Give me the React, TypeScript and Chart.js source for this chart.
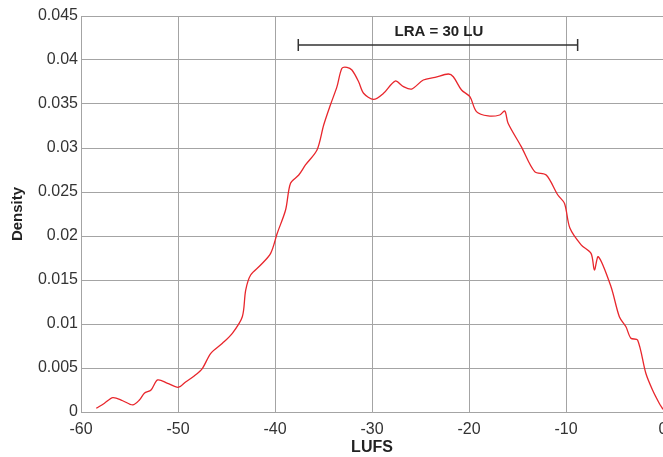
import React, { useEffect, useRef } from "react";
import { Chart, registerables } from "chart.js";

Chart.register(...registerables);

const lufs = [
  -58.43, -57.58, -56.72, -55.7, -54.67, -53.98, -53.47, -52.78, -52.1, -51.07,
  -49.97, -49.18, -48.33, -47.48, -46.62, -45.42, -44.4, -43.37, -43.02, -42.51,
  -41.48, -40.45, -39.77, -38.91, -38.4, -37.55, -36.86, -35.67, -34.98, -34.29,
  -33.61, -33.1, -32.58, -32.07, -31.38, -30.87, -29.84, -28.81, -27.61, -26.76,
  -25.91, -24.71, -23.5, -22.14, -21.62, -20.77, -19.91, -19.23, -18.03, -16.83,
  -16.31, -15.97, -14.61, -13.23, -12.04, -10.84, -10.15, -9.6, -8.44, -7.42,
  -7.07, -6.66, -5.36, -4.5, -3.82, -3.31, -2.62, -1.77, -1.08, -0.39, 0.0,
];
const density = [
  0.00042, 0.00099, 0.00163, 0.00128, 0.0008, 0.00136, 0.00213, 0.0025, 0.00364, 0.00326,
  0.00281, 0.00344, 0.00409, 0.00497, 0.00667, 0.00781, 0.00894, 0.01083, 0.01386, 0.01557,
  0.0167, 0.01803, 0.02031, 0.02295, 0.02599, 0.02693, 0.02807, 0.02977, 0.03261, 0.03489,
  0.03697, 0.03906, 0.03917, 0.03886, 0.03753, 0.03622, 0.03553, 0.03622, 0.03761, 0.03697,
  0.0367, 0.03773, 0.03803, 0.03841, 0.0381, 0.03659, 0.03583, 0.03413, 0.03364, 0.03375,
  0.0342, 0.03281, 0.03015, 0.02731, 0.02693, 0.02466, 0.0237, 0.0209, 0.019, 0.01803,
  0.01614, 0.01765, 0.01424, 0.01083, 0.00969, 0.00838, 0.00818, 0.0044, 0.0025, 0.001, 0.0003,
];

const xTicks = [-60, -50, -40, -30, -20, -10, 0];
const yTicks = [0, 0.005, 0.01, 0.015, 0.02, 0.025, 0.03, 0.035, 0.04, 0.045];

const lraStart = -37.6;
const lraEnd = -8.8;
const lraLevel = 0.0417;
const lraLabel = "LRA = 30 LU";

const FONT = "Arial, 'Liberation Sans', sans-serif";

const lraPlugin = {
  id: "lra",
  afterDatasetsDraw(chart: any) {
    const { ctx, scales } = chart;
    const x1 = scales.x.getPixelForValue(lraStart);
    const x2 = scales.x.getPixelForValue(lraEnd);
    const y = scales.y.getPixelForValue(lraLevel);
    ctx.save();
    ctx.strokeStyle = "#333";
    ctx.lineWidth = 1.5;
    ctx.beginPath();
    ctx.moveTo(x1, y);
    ctx.lineTo(x2, y);
    ctx.moveTo(x1, y - 6);
    ctx.lineTo(x1, y + 6);
    ctx.moveTo(x2, y - 6);
    ctx.lineTo(x2, y + 6);
    ctx.stroke();
    ctx.fillStyle = "#222";
    ctx.font = "bold 15px " + FONT;
    ctx.textAlign = "center";
    ctx.textBaseline = "middle";
    ctx.fillText(lraLabel, (x1 + x2) / 2 + 1, y - 13);
    ctx.restore();
  },
};

export default function App() {
  const ref = useRef<HTMLCanvasElement>(null);
  useEffect(() => {
    if (!ref.current) return;
    const gridColor = "#a4a4a4";
    const chart = new Chart(ref.current, {
      type: "line",
      data: {
        datasets: [
          {
            data: lufs.map((x, i) => ({ x, y: density[i] })),
            borderColor: "#e8262c",
            borderWidth: 1.3,
            pointRadius: 0,
            tension: 0.3,
            fill: false,
          },
        ],
      },
      options: {
        animation: false,
        responsive: false,
        devicePixelRatio: 1,
        layout: { padding: { left: 0, right: 17, top: 16, bottom: 0 } },
        plugins: { legend: { display: false }, tooltip: { enabled: false } },
        scales: {
          x: {
            type: "linear",
            min: -60,
            max: 0,
            afterBuildTicks: (s: any) => {
              s.ticks = xTicks.map((v) => ({ value: v }));
            },
            afterFit: (s: any) => {
              s.height = 45;
            },
            ticks: {
              padding: 8,
              color: "#333",
              font: { family: FONT, size: 16 },
              callback: (v: any) => String(v),
            },
            grid: { color: gridColor, lineWidth: 1, drawTicks: false },
            border: { color: gridColor },
            title: {
              display: true,
              text: "LUFS",
              color: "#222",
              font: { family: FONT, size: 16, weight: "bold" },
              padding: { top: 0, bottom: 0 },
            },
          },
          y: {
            type: "linear",
            min: 0,
            max: 0.045,
            afterBuildTicks: (s: any) => {
              s.ticks = yTicks.map((v) => ({ value: v }));
            },
            afterFit: (s: any) => {
              s.width = 81;
            },
            ticks: {
              padding: 3,
              color: "#333",
              font: { family: FONT, size: 16 },
              callback: (v: any) => String(v),
            },
            grid: { color: gridColor, lineWidth: 1, drawTicks: false },
            border: { color: gridColor },
            title: {
              display: true,
              text: "Density",
              color: "#222",
              font: { family: FONT, size: 15, weight: "bold" },
              padding: { top: 9, bottom: 0 },
            },
          },
        },
      },
      plugins: [lraPlugin],
    });
    return () => chart.destroy();
  }, []);
  return (
    <div
      style={{
        position: "absolute",
        left: 0,
        top: 0,
        width: 663,
        height: 457,
        overflow: "hidden",
        background: "#fff",
      }}
    >
      <canvas ref={ref} width={680} height={457} style={{ display: "block" }} />
    </div>
  );
}
